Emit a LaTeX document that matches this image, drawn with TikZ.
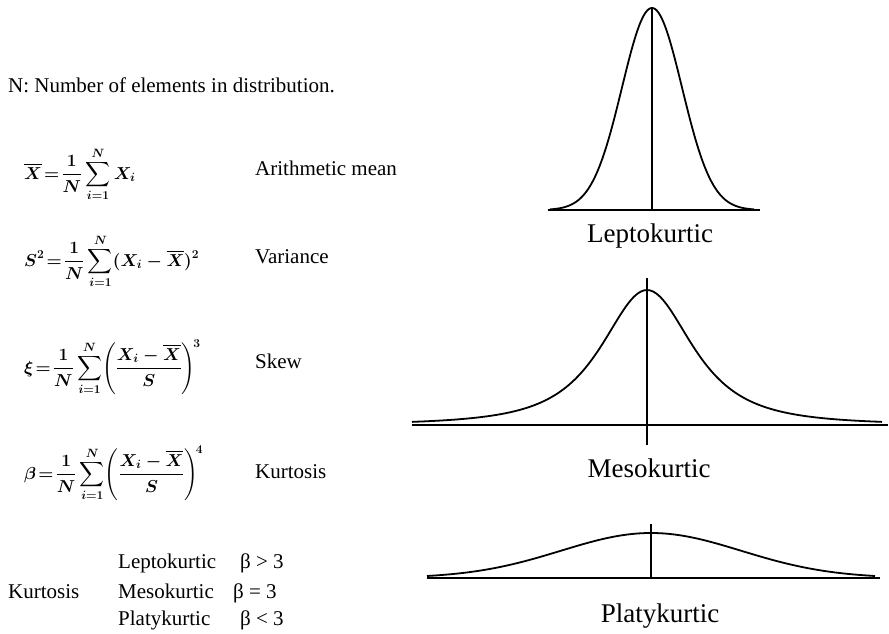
\documentclass[tikz,border=0pt]{standalone}
\usepackage{exscale}
\usepackage{fontspec}
\setmainfont{Liberation Serif}
\usetikzlibrary{positioning}

\begin{document}
\begin{tikzpicture}[x=1pt, y=-1pt,
  txt/.style={anchor=base west, inner sep=0pt, font=\fontsize{21}{25}\selectfont},
  eqn/.style={anchor=base west, inner sep=0pt, font=\fontsize{18}{22}\selectfont\boldmath},
  curvelbl/.style={anchor=base, inner sep=0pt, font=\fontsize{27}{32}\selectfont},
  axis/.style={line width=1.6pt},
  bell/.style={line width=1.8pt, smooth, samples=151}
]
  \useasboundingbox (0,0) rectangle (889,633);

  % header line
  \node[txt] (hdr) at (8,92) {N: Number of elements in distribution.};

  % moments
  \node[eqn] (mean) at (24,179) {$\displaystyle \overline{X}\!=\!\frac{1}{N}\sum_{i=1}^{N}X_i$};
  \node[txt] (meanlbl) at (255,175) {Arithmetic mean};

  \node[eqn] (var) at (24,266) {$\displaystyle S^2\!=\!\frac{1}{N}\sum_{i=1}^{N}(X_i-\overline{X})^2$};
  \node[txt] (varlbl) at (255,263) {Variance};

  \node[eqn] (skew) at (24,373) {$\displaystyle \xi\!=\!\frac{1}{N}\sum_{i=1}^{N}\!\left(\frac{X_i-\overline{X}}{S}\right)^{\!3}$};
  \node[txt] (skewlbl) at (255,368) {Skew};

  \node[eqn] (kurt) at (24,479) {$\displaystyle \beta\!=\!\frac{1}{N}\sum_{i=1}^{N}\!\left(\frac{X_i-\overline{X}}{S}\right)^{\!4}$};
  \node[txt] (kurtlbl) at (255,478) {Kurtosis};

  % kurtosis table
  \node[txt] (ktitle) at (8,598) {Kurtosis};
  \node[txt] (lepto) at (118,568) {Leptokurtic};
  \node[txt] (meso)  at (118,598) {Mesokurtic};
  \node[txt] (platy) at (118,625) {Platykurtic};
  \node[txt] (leptob) at (240,568) {β > 3};
  \node[txt] (mesob)  at (233,598) {β = 3};
  \node[txt] (platyb) at (240,625) {β < 3};

  % Leptokurtic curve
  \coordinate (l-left)  at (548,210);
  \coordinate (l-right) at (760,210);
  \coordinate (l-mid)   at (652,210);
  \coordinate (l-top)   at (652,8);
  \draw[axis] (l-left) -- (l-right);
  \draw[axis] (l-top) -- (l-mid);
  \draw[bell] plot[domain=-102:102] ({652+\x}, {210-202*exp(-(\x/30)*(\x/30)/2)});
  \node[curvelbl] (leptolbl) at (650,242) {Leptokurtic};

  % Mesokurtic curve
  \coordinate (m-left)  at (412,425);
  \coordinate (m-right) at (888,425);
  \coordinate (m-bot)   at (647,445);
  \coordinate (m-top)   at (647,278);
  \draw[axis] (m-left) -- (m-right);
  \draw[axis] (m-top) -- (m-bot);
  \draw[bell] plot[domain=-235:235] ({647+\x}, {425-135/((1+(\x/70)*(\x/70))^1.5)});
  \node[curvelbl] (mesolbl) at (649,477) {Mesokurtic};

  % Platykurtic curve
  \coordinate (p-left)  at (427,578);
  \coordinate (p-right) at (880,578);
  \coordinate (p-mid)   at (651,578);
  \coordinate (p-top)   at (651,524);
  \draw[axis] (p-left) -- (p-right);
  \draw[axis] (p-top) -- (p-mid);
  \draw[bell] plot[domain=-224:224] ({651+\x}, {578-45*exp(-(\x/90)*(\x/90)/2)});
  \node[curvelbl] (platylbl) at (660,622) {Platykurtic};

\end{tikzpicture}
\end{document}
